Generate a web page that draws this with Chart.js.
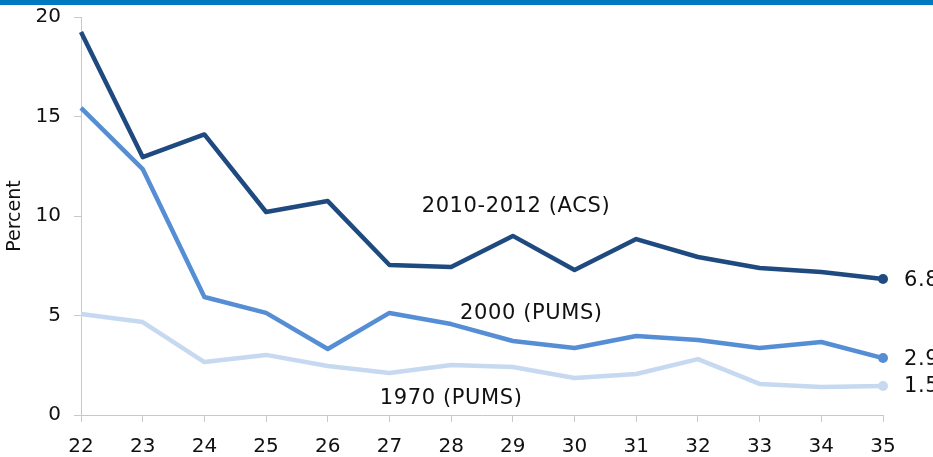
<!DOCTYPE html>
<html>
<head>
<meta charset="utf-8">
<script src="https://cdn.jsdelivr.net/npm/chart.js@4"></script>
<style>
  html, body { margin: 0; padding: 0; background: #fff; }
  .chart-container { width: 933px; height: 457px; position: relative; }
</style>
</head>
<body>
<div class="chart-container">
  <canvas id="chart"></canvas>
</div>
<script>
// ages on the x axis
const ages = ['22', '23', '24', '25', '26', '27', '28', '29', '30', '31', '32', '33', '34', '35'];
const acs2010 = [19.25, 12.96, 14.1, 10.2, 10.75, 7.54, 7.44, 9.0, 7.29, 8.84, 7.94, 7.39, 7.19, 6.83];
const pums2000 = [15.43, 12.36, 5.93, 5.13, 3.32, 5.13, 4.57, 3.72, 3.37, 3.97, 3.77, 3.37, 3.67, 2.86];
const pums1970 = [5.08, 4.67, 2.66, 3.02, 2.46, 2.11, 2.51, 2.41, 1.86, 2.06, 2.81, 1.56, 1.41, 1.46];
const seriesNames = ['2010-2012 (ACS)', '2000 (PUMS)', '1970 (PUMS)'];
const yTicks = [0, 5, 10, 15, 20];

const colors = ['#1F4A80', '#558ED5', '#C6D9F1'];
const tickFont = { family: "'DejaVu Sans', Verdana, sans-serif", size: 20 };
const textFont = "21px 'DejaVu Sans', Verdana, sans-serif";

// only the last point of each line gets a dot
const lastDot = (ctx) => (ctx.dataIndex === ages.length - 1 ? 5 : 0);

// where the series names sit (in data units)
const nameSpots = [
  { x: 7.05, y: 10.5 },
  { x: 7.3, y: 5.1 },
  { x: 6.0, y: 0.85 },
];

const labelsPlugin = {
  id: 'labels',
  beforeDraw(chart) {
    const c = chart.ctx;
    c.save();
    c.fillStyle = '#0079C1';
    c.fillRect(0, 0, chart.width, 5);
    c.restore();
  },
  afterDatasetsDraw(chart) {
    const c = chart.ctx;
    const xs = chart.scales.x;
    const ys = chart.scales.y;
    c.save();
    c.font = textFont;
    c.letterSpacing = '0.6px';
    c.fillStyle = '#111';
    c.textBaseline = 'middle';
    chart.data.datasets.forEach((ds, i) => {
      const meta = chart.getDatasetMeta(i);
      const last = meta.data[meta.data.length - 1];
      c.textAlign = 'left';
      c.fillText(ds.data[ds.data.length - 1].toFixed(1), last.x + 21, last.y + 1);
      c.textAlign = 'center';
      c.fillText(ds.label, xs.getPixelForValue(nameSpots[i].x), ys.getPixelForValue(nameSpots[i].y));
    });
    c.restore();
  },
};

const ctx = document.getElementById('chart').getContext('2d');
new Chart(ctx, {
  type: 'line',
  data: {
    labels: ages,
    datasets: [acs2010, pums2000, pums1970].map((d, i) => ({
      label: seriesNames[i],
      data: d,
      borderColor: colors[i],
      backgroundColor: colors[i],
      borderWidth: 4.5,
      tension: 0,
      pointRadius: lastDot,
      pointHoverRadius: lastDot,
      pointBorderWidth: 0,
      borderJoinStyle: 'round',
    })),
  },
  options: {
    responsive: true,
    maintainAspectRatio: false,
    animation: false,
    layout: { autoPadding: false, padding: { top: 17, right: 50, left: 4, bottom: 0 } },
    plugins: {
      legend: { display: false },
      tooltip: { enabled: false },
    },
    scales: {
      x: {
        offset: false,
        grid: { drawOnChartArea: false, drawTicks: true, tickLength: 7, color: '#C8C8C8' },
        border: { color: '#C8C8C8', width: 1 },
        ticks: { color: '#111', font: tickFont, padding: 13, maxRotation: 0 },
        afterFit(scale) {
          scale.height = 42;
          scale.paddingLeft = 0;
          scale.paddingRight = 0;
        },
      },
      y: {
        min: 0,
        max: 20,
        afterBuildTicks(scale) { scale.ticks = yTicks.map(v => ({ value: v })); },
        grid: { drawOnChartArea: false, drawTicks: true, tickLength: 7, color: '#C8C8C8' },
        border: { color: '#C8C8C8', width: 1 },
        ticks: { color: '#111', font: tickFont, padding: 13 },
        title: {
          display: true,
          text: 'Percent',
          color: '#111',
          font: { family: "'DejaVu Sans', Verdana, sans-serif", size: 19 },
          padding: 0,
        },
        afterFit(scale) {
          scale.width = 77;
          scale.paddingTop = 0;
          scale.paddingBottom = 0;
        },
      },
    },
  },
  plugins: [labelsPlugin],
});
</script>
</body>
</html>
